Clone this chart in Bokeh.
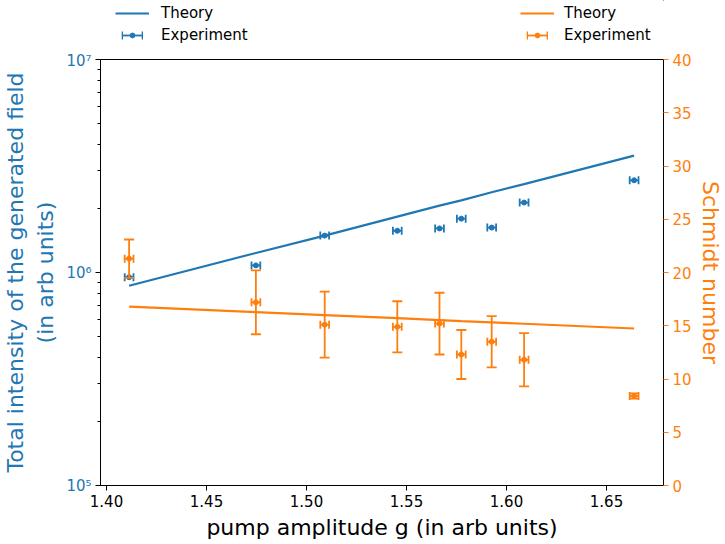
from bokeh.plotting import figure
from bokeh.layouts import column
from bokeh.models import (Range1d, LinearAxis, FixedTicker, Whisker, TeeHead,
                          ColumnDataSource, Legend, LegendItem, LinearScale)
from bokeh.embed import file_html
from bokeh.resources import INLINE

# ---- data ----
pump_g = [1.4113, 1.4747, 1.5091, 1.5454, 1.5665, 1.5774, 1.5926, 1.6088, 1.6638]
pump_g_err = [0.0022, 0.0022, 0.0022, 0.0022, 0.0022, 0.0022, 0.0022, 0.0022, 0.0022]

intensity_exp = [9.5e5, 1.08e6, 1.49e6, 1.57e6, 1.61e6, 1.79e6, 1.625e6, 2.13e6, 2.71e6]
intensity_theory = [8.66e5, 1.235e6, 1.49e6, 1.83e6, 2.06e6, 2.18e6, 2.38e6, 2.60e6, 3.54e6]

schmidt_exp = [21.3, 17.2, 15.1, 14.9, 15.2, 12.3, 13.5, 11.8, 8.4]
schmidt_err = [1.8, 3.0, 3.1, 2.4, 2.9, 2.3, 2.4, 2.5, 0.25]
schmidt_theory = [16.8, 16.28, 16.0, 15.71, 15.53, 15.44, 15.32, 15.19, 14.74]

x_ticks = [1.40, 1.45, 1.50, 1.55, 1.60, 1.65]
left_ticks = [1e5, 1e6, 1e7]
left_tick_labels = ["10\u2075", "10\u2076", "10\u2077"]
left_minor = [2e5, 3e5, 4e5, 5e5, 6e5, 7e5, 8e5, 9e5,
              2e6, 3e6, 4e6, 5e6, 6e6, 7e6, 8e6, 9e6]
right_ticks = [0, 5, 10, 15, 20, 25, 30, 35, 40]

BLUE = "#1f77b4"
ORANGE = "#ff7f0e"
FONT = "DejaVu Sans"
TOP_H = 51

p = figure(width=725, height=544 - TOP_H, output_backend="svg", toolbar_location=None,
           x_range=Range1d(1.397, 1.6785), y_range=Range1d(1e5, 1e7),
           y_axis_type="log",
           min_border_left=97, min_border_right=55, min_border_top=59 - TOP_H,
           min_border_bottom=59)
p.extra_y_ranges = {"schmidt": Range1d(0, 40)}
p.extra_y_scales = {"schmidt": LinearScale()}
p.grid.visible = False
p.outline_line_color = "black"
p.outline_line_width = 1
p.background_fill_color = "white"
p.border_fill_color = "white"

# x axis
xa = p.xaxis[0]
xa.ticker = FixedTicker(ticks=x_ticks)
xa.major_label_overrides = {t: f"{t:.2f}" for t in x_ticks}
xa.axis_label = "pump amplitude g (in arb units)"
xa.axis_label_text_color = "black"
xa.major_label_text_color = "black"

# left axis
ya = p.yaxis[0]
ya.ticker = FixedTicker(ticks=left_ticks, minor_ticks=left_minor)
ya.major_label_overrides = {int(t): s for t, s in zip(left_ticks, left_tick_labels)}
ya.axis_label = "Total intensity of the generated field\n(in arb units)"
ya.axis_label_text_color = BLUE
ya.major_label_text_color = BLUE

# right axis
ra = LinearAxis(y_range_name="schmidt", ticker=FixedTicker(ticks=right_ticks),
                axis_label="Schmidt number")
ra.axis_label_text_color = ORANGE
ra.major_label_text_color = ORANGE
ra.major_tick_line_color = ORANGE
p.add_layout(ra, "right")

for ax in [xa, ya, ra]:
    ax.axis_label_text_font = FONT
    ax.axis_label_text_font_size = "22px"
    ax.axis_label_text_font_style = "normal"
    ax.major_label_text_font = FONT
    ax.major_label_text_font_size = "15px"
    ax.major_tick_out = 5
    ax.major_tick_in = 0
    ax.minor_tick_out = 3
    ax.minor_tick_in = 0
    ax.axis_line_color = "black"
    ax.major_label_standoff = 4
    ax.axis_label_standoff = 5
xa.major_tick_line_color = "black"
ya.major_tick_line_color = "black"
ya.minor_tick_line_color = "black"
ra.axis_label_standoff = 3

# theory lines
p.line(pump_g, intensity_theory, line_color=BLUE, line_width=2.2)
p.line(pump_g, schmidt_theory, line_color=ORANGE, line_width=2.2,
       y_range_name="schmidt")

# experiment: blue
src_b = ColumnDataSource(dict(
    g=pump_g, y=intensity_exp,
    lo=[a - b for a, b in zip(pump_g, pump_g_err)],
    hi=[a + b for a, b in zip(pump_g, pump_g_err)]))
wb = Whisker(source=src_b, base="y", lower="lo", upper="hi", dimension="width",
             line_color=BLUE, line_width=1.8, level="glyph",
             upper_head=TeeHead(size=8, line_color=BLUE, line_width=1.8),
             lower_head=TeeHead(size=8, line_color=BLUE, line_width=1.8))
p.add_layout(wb)
p.scatter("g", "y", source=src_b, size=5, color=BLUE)

# experiment: orange
src_o = ColumnDataSource(dict(
    g=pump_g, y=schmidt_exp,
    lo=[a - b for a, b in zip(pump_g, pump_g_err)],
    hi=[a + b for a, b in zip(pump_g, pump_g_err)],
    ylo=[a - b for a, b in zip(schmidt_exp, schmidt_err)],
    yhi=[a + b for a, b in zip(schmidt_exp, schmidt_err)]))
wox = Whisker(source=src_o, base="y", lower="lo", upper="hi", dimension="width",
              y_range_name="schmidt", line_color=ORANGE, line_width=1.8, level="glyph",
              upper_head=TeeHead(size=8, line_color=ORANGE, line_width=1.8),
              lower_head=TeeHead(size=8, line_color=ORANGE, line_width=1.8))
woy = Whisker(source=src_o, base="g", lower="ylo", upper="yhi", dimension="height",
              y_range_name="schmidt", line_color=ORANGE, line_width=1.8, level="glyph",
              upper_head=TeeHead(size=10, line_color=ORANGE, line_width=1.8),
              lower_head=TeeHead(size=10, line_color=ORANGE, line_width=1.8))
p.add_layout(wox)
p.add_layout(woy)
p.scatter("g", "y", source=src_o, size=5, color=ORANGE, y_range_name="schmidt")

# ---- legend strip above the plot ----
# Its helper renderers reuse the Schmidt data but lie outside this strip's
# ranges, so only their legend glyphs are visible.
lf = figure(width=725, height=TOP_H, output_backend="svg", toolbar_location=None,
            x_range=Range1d(0, 1), y_range=Range1d(0, 1),
            min_border_left=97, min_border_right=55, min_border_top=0,
            min_border_bottom=0)
lf.axis.visible = False
lf.grid.visible = False
lf.outline_line_color = None
lf.border_fill_color = "white"


def legend_parts(color):
    line = lf.line(pump_g, schmidt_theory, line_color=color, line_width=2.2)
    bar = lf.segment(x0=pump_g, y0=schmidt_exp, x1=pump_g, y1=schmidt_exp,
                     line_color=color, line_width=1.8)
    dot = lf.scatter(pump_g, schmidt_exp, marker="circle", size=5, color=color)
    cap = lf.vbar(x=pump_g, top=schmidt_exp, bottom=schmidt_theory, width=0.001,
                  fill_color=color, line_color=None)
    return line, bar, dot, cap


def add_legend(label, renderers, x, y, gw, gh, standoff, font="15px"):
    lf.add_layout(Legend(items=[LegendItem(label=label, renderers=renderers)],
                         location=(x, y), orientation="vertical",
                         border_line_color=None, background_fill_alpha=0,
                         label_text_font=FONT, label_text_font_size=font,
                         label_text_color="black",
                         glyph_width=gw, glyph_height=gh, label_height=gh,
                         label_width=1,
                         label_standoff=standoff, spacing=0, padding=0, margin=0))


def side(color, x_line, standoff_line, standoff_exp):
    line, bar, dot, cap = legend_parts(color)
    # row 1: Theory (row centre 13 px below the top)
    add_legend("Theory", [line], x_line, TOP_H - 23, 34, 20, standoff_line)
    # row 2: Experiment (row centre 35 px below the top)
    cx = x_line + 17
    add_legend("Experiment", [bar], cx - 10, TOP_H - 45, 20, 20, standoff_exp)
    add_legend(" ", [dot], cx - 6, TOP_H - 41, 12, 12, 0, font="1px")
    for capx in (cx - 10, cx + 10):
        add_legend(" ", [cap], capx - 1, TOP_H - 40, 2, 10, 0, font="1px")


side(BLUE, 15, 12, 19)
side(ORANGE, 420, 10, 17)

layout = column(lf, p, spacing=0)
open("out.html", "w").write(file_html(layout, INLINE))
